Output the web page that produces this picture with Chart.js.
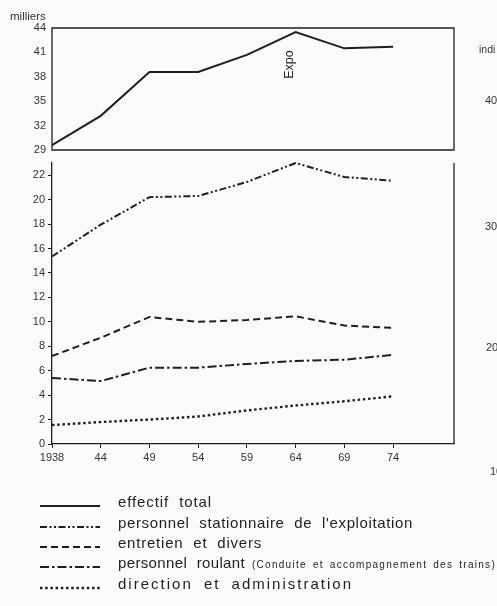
<!DOCTYPE html>
<html>
<head>
<meta charset="utf-8">
<script src="https://cdn.jsdelivr.net/npm/chart.js@4.4.0/dist/chart.umd.min.js"></script>
<style>
html, body { margin: 0; padding: 0; background: #fbfbfa; overflow: hidden; }
body { width: 497px; height: 606px; position: relative; font-family: "Liberation Sans", Arial, sans-serif; color: #2a2a2a; }
canvas { position: absolute; left: 0; }
#topChart { top: 0; }
#bottomChart { top: 150px; }
.lbl { position: absolute; white-space: nowrap; font-size: 11px; line-height: 12px; color: #333; }
</style>
</head>
<body>
<canvas id="topChart" width="497" height="160" style="width:497px;height:160px"></canvas>
<canvas id="bottomChart" width="497" height="456" style="width:497px;height:456px"></canvas>
<div class="lbl" style="left:10px;top:10px;font-size:11.5px">milliers</div>
<div class="lbl" style="left:479px;top:43px;font-size:10.5px">indi</div>
<div class="lbl" style="left:485px;top:94px">40</div>
<div class="lbl" style="left:485px;top:220px">30</div>
<div class="lbl" style="left:486px;top:341px">20</div>
<div class="lbl" style="left:490px;top:465px">10</div>
<script>
// années (axe commun aux deux panneaux)
const years = ['1938', '44', '49', '54', '59', '64', '69', '74'];

// panneau du haut, en milliers
const effectifTotal = [29.6, 33.2, 38.6, 38.6, 40.7, 43.5, 41.5, 41.7];
const topTicks = [29, 32, 35, 38, 41, 44];

// panneau du bas, en milliers
const stationnaire = [15.35, 17.95, 20.2, 20.3, 21.45, 23.0, 21.85, 21.55];
const entretien = [7.2, 8.7, 10.4, 10.0, 10.15, 10.45, 9.7, 9.5];
const roulant = [5.4, 5.15, 6.25, 6.25, 6.55, 6.8, 6.9, 7.3];
const direction = [1.55, 1.8, 2.0, 2.25, 2.75, 3.15, 3.5, 3.9];
const bottomTicks = [0, 2, 4, 6, 8, 10, 12, 14, 16, 18, 20, 22];

const ink = '#1f1f1f';
const font = '"Liberation Sans", Arial, sans-serif';
Chart.defaults.font.family = font;
Chart.defaults.font.size = 11;
Chart.defaults.color = '#333';

const pts = arr => arr.map((v, i) => ({ x: i, y: v }));

function line(label, values, dash, width) {
    return {
        label: label,
        data: pts(values),
        borderColor: ink,
        borderWidth: width || 2,
        borderDash: dash,
        pointRadius: 0,
        tension: 0,
        fill: false,
        clip: false
    };
}

const totalDs = line('effectif total', effectifTotal, [], 2);
const bottomDs = [
    line("personnel stationnaire de l'exploitation", stationnaire, [7, 2.5, 2, 2.5, 2, 2.5], 2),
    line('entretien et divers', entretien, [7, 4], 2),
    line('personnel roulant', roulant, [9, 3, 2.5, 3], 2),
    line('direction et administration', direction, [2.5, 2.7], 2.4)
];

function xAxis(show) {
    return {
        type: 'linear',
        display: show,
        min: 0,
        max: 8.25,
        afterBuildTicks: s => { s.ticks = years.map((_, i) => ({ value: i })); },
        afterFit: s => { s.height = show ? 30 : 0; s.paddingLeft = 0; s.paddingRight = 0; },
        ticks: { autoSkip: false, maxRotation: 0, padding: 3, callback: v => years[v], font: { size: 11 } },
        grid: { display: true, drawOnChartArea: false, drawTicks: true, tickLength: 4, color: ink },
        border: { display: true, color: ink, width: 1.3 }
    };
}

// cadre autour du panneau / trait de droite
const frame = {
    id: 'frame',
    afterDraw(chart, args, opts) {
        const { ctx, chartArea: a } = chart;
        ctx.save();
        ctx.strokeStyle = ink;
        ctx.lineWidth = 1.3;
        ctx.beginPath();
        if (opts.box) {
            ctx.rect(a.left, a.top, a.right - a.left, a.bottom - a.top);
        } else {
            ctx.moveTo(a.right, a.top);
            ctx.lineTo(a.right, a.bottom);
        }
        ctx.stroke();
        ctx.restore();
    }
};

const expoLabel = {
    id: 'expoLabel',
    afterDraw(chart) {
        const { ctx, scales } = chart;
        ctx.save();
        ctx.translate(scales.x.getPixelForValue(5) - 6, scales.y.getPixelForValue(39.5));
        ctx.rotate(-Math.PI / 2);
        ctx.font = '12.5px ' + font;
        ctx.fillStyle = ink;
        ctx.textAlign = 'center';
        ctx.textBaseline = 'middle';
        ctx.fillText('Expo', 0, 0);
        ctx.restore();
    }
};

// légende dessinée sous le graphique du bas
const legendBelow = {
    id: 'legendBelow',
    afterDraw(chart, args, opts) {
        const { ctx } = chart;
        const items = [totalDs].concat(chart.data.datasets);
        ctx.save();
        items.forEach((ds, i) => {
            const y = opts.rows[i] - opts.offset;
            ctx.strokeStyle = ink;
            ctx.lineWidth = ds.borderWidth;
            ctx.setLineDash(ds.borderDash);
            ctx.beginPath();
            ctx.moveTo(40, y - 1);
            ctx.lineTo(100, y - 1);
            ctx.stroke();
            ctx.setLineDash([]);

            ctx.fillStyle = ink;
            ctx.font = '15px ' + font;
            ctx.textBaseline = 'alphabetic';
            ctx.wordSpacing = '5px';
            ctx.letterSpacing = '0px';
            const w = ctx.measureText(ds.label).width;
            ctx.letterSpacing = ((opts.widths[i] - w) / ds.label.length) + 'px';
            ctx.fillText(ds.label, 118, y);
            if (i === 3) {
                ctx.font = '10px ' + font;
                ctx.wordSpacing = '2px';
                ctx.letterSpacing = '0px';
                const note = '(Conduite et accompagnement des trains)';
                const w2 = ctx.measureText(note).width;
                ctx.letterSpacing = ((244 - w2) / note.length) + 'px';
                ctx.fillText(note, 252, y);
            }
        });
        ctx.restore();
    }
};

new Chart(document.getElementById('topChart'), {
    type: 'line',
    data: { datasets: [totalDs] },
    options: {
        responsive: false,
        animation: false,
        devicePixelRatio: 1,
        layout: { padding: { top: 28, right: 43, bottom: 10, left: 0 } },
        plugins: { legend: { display: false }, tooltip: { enabled: false }, frame: { box: true } },
        scales: {
            x: xAxis(false),
            y: {
                min: 29,
                max: 44,
                afterBuildTicks: s => { s.ticks = topTicks.map(v => ({ value: v })); },
                afterFit: s => { s.width = 52; s.paddingTop = 0; s.paddingBottom = 0; },
                ticks: { padding: 6, font: { size: 11 } },
                grid: { display: false, drawTicks: false },
                border: { display: false }
            }
        }
    },
    plugins: [frame, expoLabel]
});

new Chart(document.getElementById('bottomChart'), {
    type: 'line',
    data: { datasets: bottomDs },
    options: {
        responsive: false,
        animation: false,
        devicePixelRatio: 1,
        layout: { padding: { top: 13, right: 43, bottom: 132, left: 0 } },
        plugins: {
            legend: { display: false },
            tooltip: { enabled: false },
            frame: { box: false },
            legendBelow: { offset: 150, rows: [507, 528, 548, 568, 589], widths: [94, 295, 144, 127, 235] }
        },
        scales: {
            x: xAxis(true),
            y: {
                min: 0,
                max: 23,
                afterBuildTicks: s => { s.ticks = bottomTicks.map(v => ({ value: v })); },
                afterFit: s => { s.width = 52; s.paddingTop = 0; s.paddingBottom = 0; },
                ticks: { padding: 3, font: { size: 11 } },
                grid: { display: true, drawOnChartArea: false, drawTicks: true, tickLength: 4, color: ink },
                border: { display: true, color: ink, width: 1.3 }
            }
        }
    },
    plugins: [frame, legendBelow]
});
</script>
</body>
</html>
